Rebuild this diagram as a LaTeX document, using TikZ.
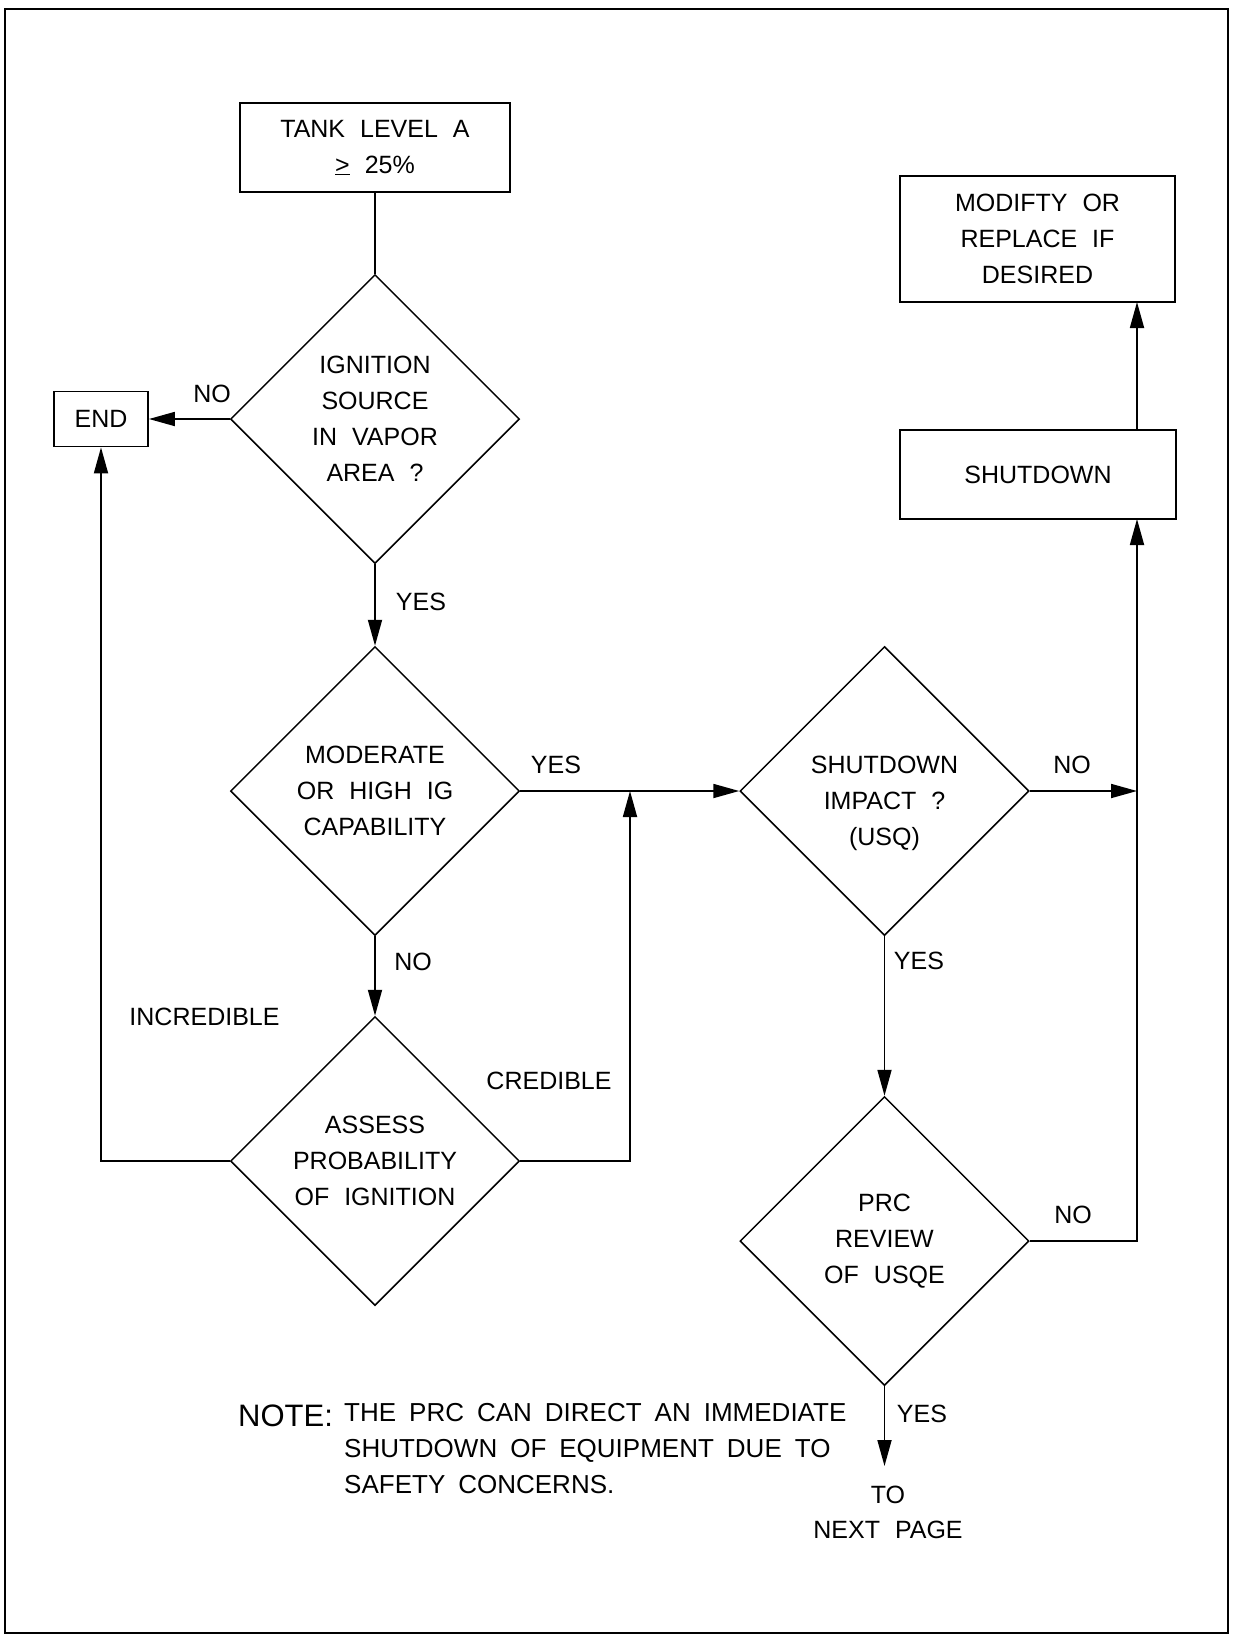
\documentclass[tikz,border=0pt]{standalone}
\usepackage{fontspec}
\setmainfont{Liberation Sans}
\usetikzlibrary{shapes.geometric,arrows.meta}
\newcommand\mainfnt{\fontsize{25}{36}\selectfont\spaceskip=0.6em plus 0.1em\relax}
\newcommand\notefnt{\fontsize{26}{36}\selectfont\spaceskip=0.5em plus 0.1em\relax}
\newcommand\notebig{\fontsize{31}{36}\selectfont}
\tikzset{
  boxnode/.style={draw, line width=1.8pt, rectangle, inner sep=0pt, font=\mainfnt, align=center},
  decision/.style={draw, line width=1.5pt, diamond, aspect=1, inner sep=0pt,
    minimum width=289pt, minimum height=289pt, font=\mainfnt, align=center},
  lbl/.style={font=\mainfnt, inner sep=0pt},
  conn/.style={line width=1.8pt},
  arr/.style={line width=1.8pt, -{Triangle[length=26pt,width=14pt]}},
}
\begin{document}
\begin{tikzpicture}[x=1pt,y=-1pt]
\useasboundingbox (0,0) rectangle (1232,1636);
\fill[white] (0,0) rectangle (1232,1636);
\draw[line width=2.5pt] (5,9) rectangle (1228,1633);

% boxes
\node[boxnode, minimum width=270pt, minimum height=89pt] (tank) at (375,147.5) {TANK LEVEL A\\\underline{>} 25\%};
\node[boxnode, minimum width=94pt, minimum height=55pt] (end) at (101,419) {END};
\node[boxnode, minimum width=275pt, minimum height=126pt] (mod) at (1037.5,239) {MODIFTY OR\\REPLACE IF\\DESIRED};
\node[boxnode, minimum width=276pt, minimum height=89pt] (sd) at (1038,474.5) {SHUTDOWN};

% decisions
\node[decision] (d1) at (375,419) {IGNITION\\SOURCE\\IN VAPOR\\AREA ?};
\node[decision] (d2) at (375,791) {MODERATE\\OR HIGH IG\\CAPABILITY};
\node[decision] (d3) at (375,1161) {ASSESS\\PROBABILITY\\OF IGNITION};
\node[decision, label={[lbl, align=center, yshift=-12pt]center:SHUTDOWN\\IMPACT ?\\(USQ)}] (d4) at (884.5,791) {};
\node[decision] (d5) at (884.5,1241) {PRC\\REVIEW\\OF USQE};

% helper coordinates
\coordinate (cj) at (630,791);
\coordinate (rj) at (1137,791);
\coordinate (sdb) at (1137,519);
\coordinate (sdt) at (1137,430);
\coordinate (modb) at (1137,302);
\coordinate (np) at (884.5,1466);

% connectors
\draw[conn] (tank.south) -- (d1.north);
\draw[arr] (d1.west) -- (end.east);
\draw[arr] (d1.south) -- (d2.north);
\draw[arr] (d2.south) -- (d3.north);
\draw[arr] (d2.east) -- (d4.west);
\draw[arr] (d3.east) -| (cj);
\draw[arr] (d3.west) -| (end.south);
\draw[arr] (d4.east) -- (rj);
\draw[arr] (d4.south) -- (d5.north);
\draw[arr] (d5.east) -| (sdb);
\draw[arr] (sdt) -- (modb);
\draw[arr] (d5.south) -- (np);

% labels
\node[lbl] (l1) at (212,394) {NO};
\node[lbl] (l2) at (421,602) {YES};
\node[lbl] (l3) at (556,765) {YES};
\node[lbl] (l4) at (413,962) {NO};
\node[lbl] (l5) at (204.5,1017) {INCREDIBLE};
\node[lbl] (l6) at (549,1081) {CREDIBLE};
\node[lbl] (l7) at (1072,765) {NO};
\node[lbl] (l8) at (919,961) {YES};
\node[lbl] (l9) at (1073,1215) {NO};
\node[lbl] (l10) at (922,1413.5) {YES};
\node[lbl] (to) at (888,1495) {TO};
\node[lbl] (nextp) at (888,1530) {NEXT PAGE};

% note
\node[inner sep=0pt, anchor=west, font=\notebig] (note) at (238,1416) {NOTE:};
\node[inner sep=0pt, anchor=north west, font=\notefnt, align=left] (notetxt) at (344,1403)
  {THE PRC CAN DIRECT AN IMMEDIATE\\SHUTDOWN OF EQUIPMENT DUE TO\\SAFETY CONCERNS.};
\end{tikzpicture}
\end{document}
